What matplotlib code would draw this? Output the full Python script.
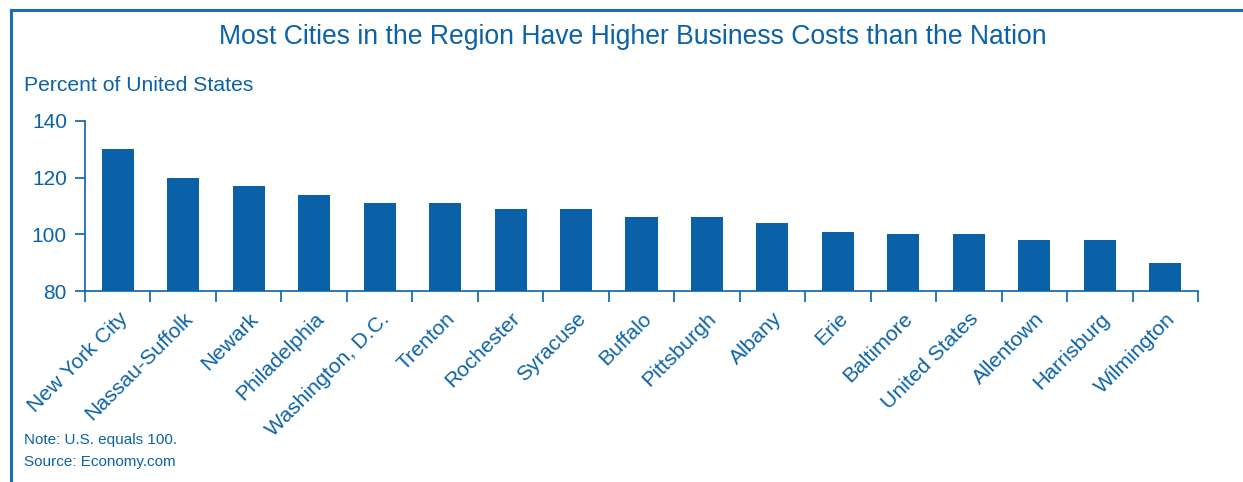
import matplotlib.pyplot as plt
from matplotlib.lines import Line2D
from matplotlib.ticker import FixedLocator

cities = ["New York City", "Nassau-Suffolk", "Newark", "Philadelphia", "Washington, D.C.",
          "Trenton", "Rochester", "Syracuse", "Buffalo", "Pittsburgh", "Albany", "Erie",
          "Baltimore", "United States", "Allentown", "Harrisburg", "Wilmington"]
cost_index = [130, 120, 117, 114, 111, 111, 109, 109, 106, 106, 104, 101, 100, 100, 98, 98, 90]
y_ticks = [80, 100, 120, 140]

blue = "#0b62a8"
plt.rcParams["font.family"] = ["Liberation Sans", "DejaVu Sans"]

fig = plt.figure(figsize=(12.43, 4.82), dpi=100)
ax = fig.add_axes([0.0684, 0.396, 0.8954, 0.353])

x = range(len(cities))
ax.bar(x, [v - 80 for v in cost_index], bottom=80, width=0.49, color="#0b61a7")

ax.set_xlim(-0.5, len(cities) - 0.5)
ax.set_ylim(80, 140)
ax.set_yticks(y_ticks)
ax.set_xticks(list(x))
ax.set_xticklabels(cities, rotation=45, ha="right", rotation_mode="anchor",
                   fontsize=15.3, color=blue)
ax.xaxis.set_minor_locator(FixedLocator([i - 0.5 for i in range(len(cities) + 1)]))
ax.tick_params(axis="x", which="major", length=0, pad=13)
ax.tick_params(axis="x", which="minor", length=8, width=1.2, color=blue, direction="out")
ax.tick_params(axis="y", length=7, width=1.2, color=blue, labelsize=15, labelcolor=blue, pad=6)

for side in ["top", "right"]:
    ax.spines[side].set_visible(False)
for side in ["left", "bottom"]:
    ax.spines[side].set_color(blue)
    ax.spines[side].set_linewidth(1.2)

fig.text(0.509, 0.923, "Most Cities in the Region Have Higher Business Costs than the Nation",
         ha="center", va="center", fontsize=19.1, color=blue)
fig.text(0.019, 0.823, "Percent of United States", ha="left", va="center",
         fontsize=15.2, color=blue)
fig.text(0.019, 0.087, "Note: U.S. equals 100.", ha="left", va="center",
         fontsize=11, color=blue)
fig.text(0.019, 0.042, "Source: Economy.com", ha="left", va="center",
         fontsize=11, color=blue)

# border along the top and left edges
fig.add_artist(Line2D([0.0085, 1.0], [0.979, 0.979], color="#1a6db3", linewidth=2.2))
fig.add_artist(Line2D([0.0085, 0.0085], [0.0, 0.979], color="#1a6db3", linewidth=2.2))

fig.savefig("out.png", dpi=100)
